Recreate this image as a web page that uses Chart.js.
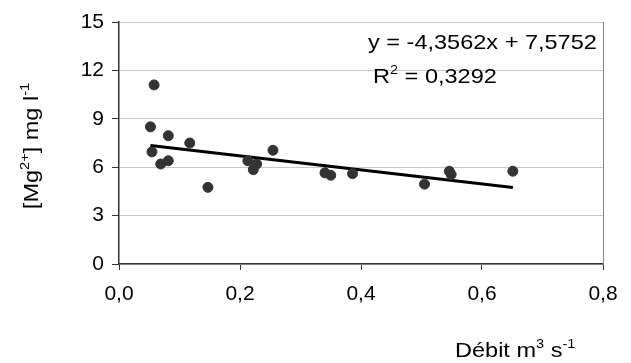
<!DOCTYPE html>
<html>
<head>
  <title>Mg vs débit</title>
  <style>
    body { margin: 0; background: #fff; }
    #wrap { width: 631px; height: 363px; }
  </style>
</head>
<body>
  <div id="wrap"><canvas id="myChart" width="631" height="363"></canvas></div>
  <script src="https://cdn.jsdelivr.net/npm/chart.js@4.4.1/dist/chart.umd.min.js"></script>
  <script>
    // débit (m3/s) and [Mg2+] (mg/l)
    const debit = [0.058, 0.052, 0.0545, 0.069, 0.0815, 0.0815, 0.117, 0.147, 0.213, 0.2275, 0.222, 0.2545, 0.3405, 0.35, 0.386, 0.505, 0.546, 0.549, 0.651];
    const mg = [11.1, 8.5, 6.95, 6.2, 6.4, 7.95, 7.5, 4.75, 6.4, 6.2, 5.85, 7.05, 5.65, 5.5, 5.6, 4.95, 5.75, 5.55, 5.75];

    // linear trend given on the chart
    const trendSlope = -4.3562;
    const trendIntercept = 7.5752;
    const rSquared = 0.3292;

    const xTicks = [0, 0.2, 0.4, 0.6, 0.8];
    const yTicks = [0, 3, 6, 9, 12, 15];

    const fmt = (v, d) => v.toFixed(d).replace('.', ',');

    const points = debit.map((x, i) => ({ x: x, y: mg[i] }));
    const xMin = Math.min(...debit), xMax = Math.max(...debit);
    const trend = [xMin, xMax].map(x => ({ x: x, y: trendSlope * x + trendIntercept }));

    const FONT = '"Liberation Sans", Arial, sans-serif';

    // draw text with superscript parts, optional horizontal stretch
    function richText(ctx, parts, x, y, size, sx) {
      ctx.save();
      ctx.translate(x, y);
      ctx.scale(sx, 1);
      ctx.textBaseline = 'alphabetic';
      ctx.textAlign = 'left';
      ctx.fillStyle = '#000';
      let cx = 0;
      parts.forEach(p => {
        const s = p.sup ? Math.round(size * 0.62) : size;
        ctx.font = s + 'px ' + FONT;
        ctx.fillText(p.t, cx, p.sup ? -size * 0.42 : 0);
        cx += ctx.measureText(p.t).width;
      });
      ctx.restore();
    }
    function richWidth(ctx, parts, size) {
      let w = 0;
      parts.forEach(p => {
        ctx.font = (p.sup ? Math.round(size * 0.62) : size) + 'px ' + FONT;
        w += ctx.measureText(p.t).width;
      });
      return w;
    }

    const annotations = {
      id: 'annotations',
      afterDraw(chart) {
        const ctx = chart.ctx;
        const a = chart.chartArea;
        // right frame line
        ctx.save();
        ctx.strokeStyle = '#888';
        ctx.lineWidth = 1;
        ctx.beginPath();
        ctx.moveTo(a.right + 0.5, a.top);
        ctx.lineTo(a.right + 0.5, a.bottom);
        ctx.stroke();
        ctx.restore();

        const sx = 1.12;
        richText(ctx, [{ t: 'y = ' + fmt(trendSlope, 4) + 'x + ' + fmt(trendIntercept, 4) }], 368, 49, 21, sx);
        richText(ctx, [{ t: 'R' }, { t: '2', sup: true }, { t: ' = ' + fmt(rSquared, 4) }], 373, 83, 21, sx);

        // x title
        const xt = [{ t: 'Débit m' }, { t: '3', sup: true }, { t: ' s' }, { t: '-1', sup: true }];
        richText(ctx, xt, 455, 357, 21, sx);

        // y title, rotated
        const yt = [{ t: '[Mg' }, { t: '2+', sup: true }, { t: '] mg l' }, { t: '-1', sup: true }];
        const w = richWidth(ctx, yt, 21) * sx;
        ctx.save();
        ctx.translate(38, 146);
        ctx.rotate(-Math.PI / 2);
        richText(ctx, yt, -w / 2, 0, 21, sx);
        ctx.restore();
      }
    };

    new Chart(document.getElementById('myChart'), {
      type: 'scatter',
      data: {
        datasets: [{
          data: points,
          backgroundColor: '#333333',
          borderColor: '#333333',
          pointRadius: 5,
          pointHoverRadius: 5,
          order: 1
        }, {
          type: 'line',
          data: trend,
          borderColor: '#000000',
          borderWidth: 3,
          pointRadius: 0,
          fill: false,
          order: 2
        }]
      },
      options: {
        responsive: false,
        animation: false,
        layout: { padding: { top: 22, right: 28, left: 0, bottom: 0 } },
        plugins: { legend: { display: false }, tooltip: { enabled: false } },
        scales: {
          x: {
            type: 'linear',
            min: 0,
            max: 0.8,
            afterBuildTicks: s => { s.ticks = xTicks.map(v => ({ value: v })); },
            afterFit: s => { s.height = 99; },
            ticks: {
              callback: v => fmt(v, 1),
              font: { family: FONT, size: 21 },
              color: '#000',
              padding: 12,
              maxRotation: 0
            },
            grid: { drawOnChartArea: false, tickLength: 6, tickColor: '#333', tickWidth: 1 },
            border: { color: '#333', width: 1.5 }
          },
          y: {
            min: 0,
            max: 15,
            afterBuildTicks: s => { s.ticks = yTicks.map(v => ({ value: v })); },
            afterFit: s => { s.width = 119; },
            ticks: {
              font: { family: FONT, size: 21 },
              color: '#000',
              padding: 8
            },
            grid: { color: '#c8c8c8', tickLength: 7, tickColor: '#333', lineWidth: 1 },
            border: { color: '#333', width: 1.5 }
          }
        }
      },
      plugins: [annotations]
    });
  </script>
</body>
</html>
